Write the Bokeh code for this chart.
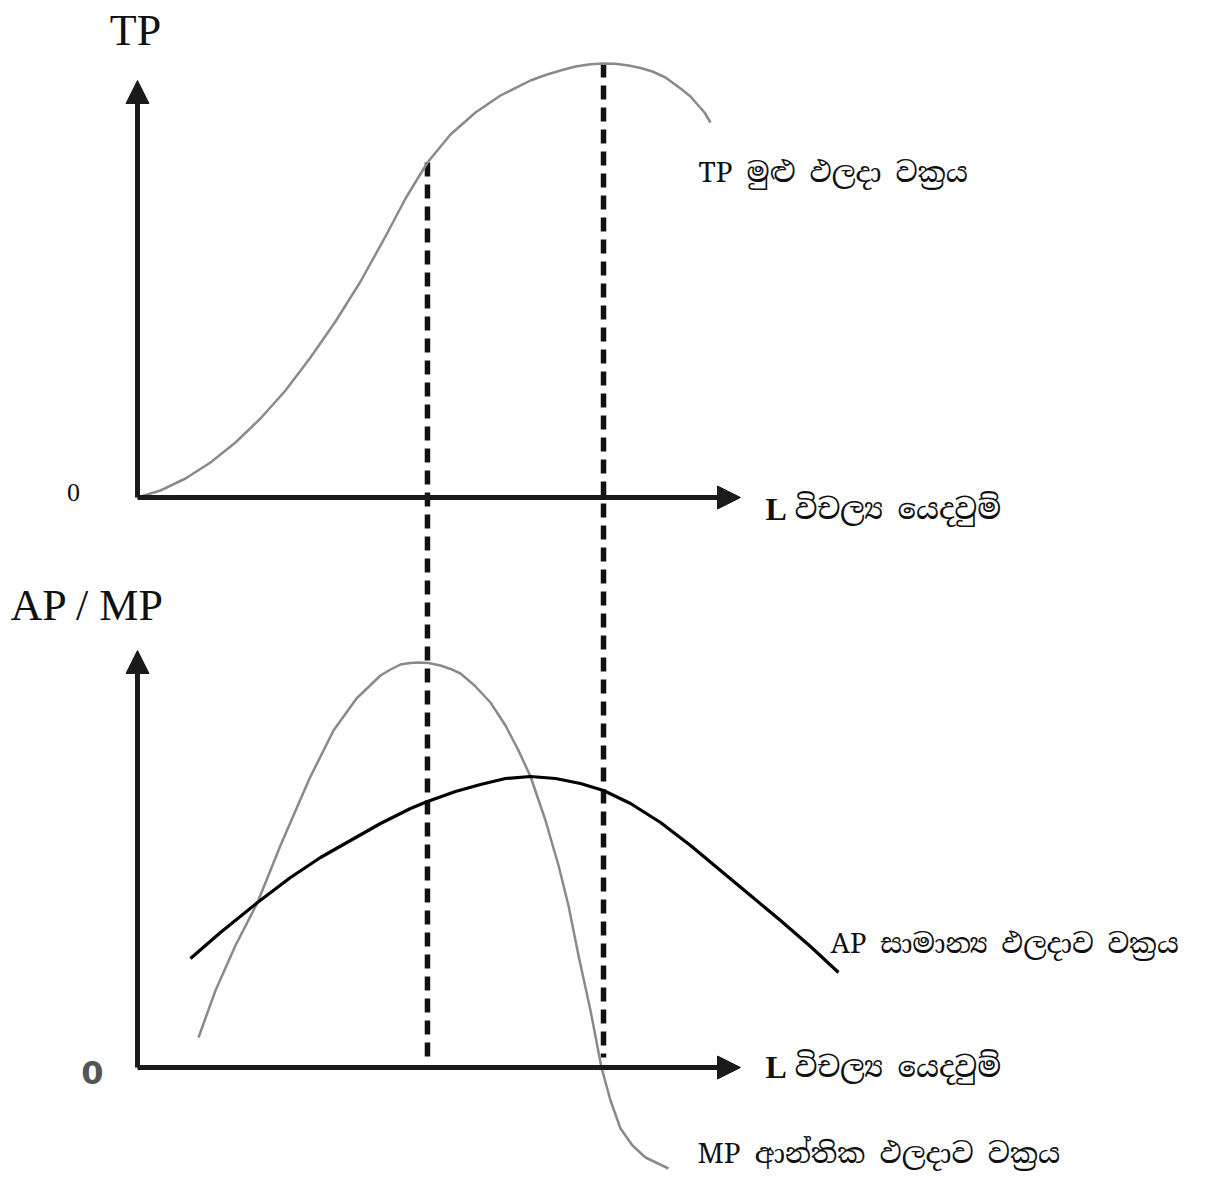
from bokeh.plotting import figure
from bokeh.models import Range1d, Arrow, NormalHead
from bokeh.core.properties import value
from bokeh.embed import file_html
from bokeh.resources import INLINE

# ---------------- data ----------------
# Units: labour L on x (axis arrow tip = 100.5), output on y (axis arrow tip = 104.25)
tp_L = [0, 3.83, 8, 12.17, 16.33, 20.5, 24.67, 28.83, 33, 37.17, 41.33, 44.67, 48.33,
        52.17, 56.33, 60.5, 65.5, 68, 70.5, 73, 75.5, 77.67, 79.67, 81.83, 83.83, 85.83,
        88, 90.5, 92.17, 93.33, 94.5, 95.5]
tp_vals = [0, 1.75, 4.75, 8.75, 13.75, 19.75, 26.75, 35, 44, 54, 65.25, 74.75, 83.75,
           90.75, 96.25, 100.5, 104.25, 105.63, 106.75, 107.75, 108.3, 108.5, 108.43, 108,
           107.38, 106.5, 105, 102.25, 100.25, 98.25, 96.25, 93.75]

mp_L = [10.17, 13, 16.33, 20, 23.83, 28.67, 32.67, 36.5, 40.5, 42.17, 43.83, 45.5, 46.83,
        48.5, 50.5, 52.17, 53.83, 56.17, 58.83, 61.33, 63.5, 65.5, 68, 70.17, 71.83, 73.5,
        75.5, 77.33, 78.83, 80.5, 82.5, 84.67, 88.5]
mp_vals = [7.5, 19.25, 30.5, 41.25, 55.5, 72.25, 84.25, 92.25, 98, 99.5, 100.75, 101.13, 101.25,
           101.13, 100.5, 99.63, 98.5, 95.5, 91.25, 85.5, 79.25, 72.75, 61.75, 50.5, 40.5, 28,
           14.25, 0, -8.25, -15.25, -19.5, -22.5, -25.25]

ap_L = [8.83, 13.83, 20, 25.5, 30.5, 35.5, 40.5, 45.5, 48.33, 53, 57.17, 61.33, 65.5,
        69.67, 73.83, 77.67, 82.17, 87.17, 92.17, 97.17, 102.17, 107.17, 112.17, 116.83]
ap_vals = [27.25, 33.75, 41.25, 47.5, 52.5, 56.75, 61, 64.75, 66.5, 69, 70.75, 72.25, 72.75,
           72.25, 71, 69.25, 66, 61.25, 55.5, 49.25, 43, 36.75, 30.25, 23.75]

# stage boundaries: TP inflection (= MP max) and TP max (= MP zero)
stage_L = [48.33, 77.67]
stage_tp = [83.75, 108.5]
axis_end_L = 100.5
axis_end_Q = 104.25

# labels
tp_axis_title = "TP"
apmp_axis_title = "AP / MP"
origin_label = "0"
l_letter = "L"
l_text = "විචල්‍ය යෙදවුම්"
tp_label = "TP මුළු ඵලදා වක්‍රය"
ap_label = "AP සාමාන්‍ය ඵලදාව වක්‍රය"
mp_label = "MP ආන්තික ඵලදාව වක්‍රය"

# ---------------- layout ----------------
W, H = 1198, 1176
OFF = 142.5          # vertical offset of the TP panel above the AP/MP panel (data units)

p = figure(width=W, height=H, output_backend="svg", toolbar_location=None,
           x_range=Range1d(-22.83, 176.83), y_range=Range1d(-27.25, 266.75),
           x_axis_location=None, y_axis_location=None, min_border=0)
p.grid.visible = False
p.outline_line_color = None
p.background_fill_color = "white"
p.border_fill_color = "white"

serif = value("Liberation Serif")
sinh = value("Noto Serif Sinhala, Noto Sans Sinhala, Iskoola Pota, Liberation Serif")

tp_y = [v + OFF for v in tp_vals]

# dashed guide lines
p.segment(x0=stage_L, y0=[v + OFF for v in stage_tp], x1=stage_L, y1=[2.5, 2.5],
          line_color="#111111", line_width=5.5, line_dash="14 8")

# curves
p.line(tp_L, tp_y, line_color="#8a8a8a", line_width=2.5, line_join="round")
p.line(mp_L, mp_vals, line_color="#8a8a8a", line_width=2.5, line_join="round")
p.line(ap_L, ap_vals, line_color="#000000", line_width=3.2, line_join="round")

# axes with arrow heads
for base in (OFF, 0):
    p.add_layout(Arrow(end=NormalHead(size=23, fill_color="#1a1a1a", line_color="#1a1a1a"),
                       x_start=0, y_start=base, x_end=axis_end_L, y_end=base,
                       line_color="#1a1a1a", line_width=5))
    p.add_layout(Arrow(end=NormalHead(size=23, fill_color="#1a1a1a", line_color="#1a1a1a"),
                       x_start=0, y_start=base, x_end=0, y_end=base + axis_end_Q,
                       line_color="#1a1a1a", line_width=5))

# axis titles
p.text(x=[-0.33], y=[259.25], text=[tp_axis_title], text_font=serif, text_font_size="44px",
       text_align="center", text_baseline="middle", text_color="#111111")
p.text(x=[-21.17], y=[115.5], text=[apmp_axis_title], text_font=serif, text_font_size="44px",
       text_align="left", text_baseline="middle", text_color="#111111")

# origins
p.text(x=[-10.67], y=[143.75], text=[origin_label], text_font=serif, text_font_size="26px",
       text_align="center", text_baseline="middle", text_color="#111111")
p.text(x=[-7.5], y=[-1.25], text=[origin_label], text_font=value("DejaVu Sans"),
       text_font_size="32px", text_font_style="bold",
       text_align="center", text_baseline="middle", text_color="#555555")

# L axis labels
for yv in (139.75, 0.25):
    p.text(x=[104.67], y=[yv], text=[l_letter], text_font=serif, text_font_size="32px",
           text_font_style="bold", text_align="left", text_baseline="middle", text_color="#111111")
    p.text(x=[109.5], y=[yv], text=[l_text], text_font=sinh, text_font_size="29px",
           text_align="left", text_baseline="middle", text_color="#111111")

# curve labels
p.text(x=[93.5], y=[223.75], text=[tp_label], text_font=sinh, text_font_size="28px",
       text_align="left", text_baseline="middle", text_color="#111111")
p.text(x=[115.5], y=[31], text=[ap_label], text_font=sinh, text_font_size="27.5px",
       text_align="left", text_baseline="middle", text_color="#111111")
p.text(x=[93.33], y=[-21.5], text=[mp_label], text_font=sinh, text_font_size="28px",
       text_align="left", text_baseline="middle", text_color="#111111")

open("out.html", "w").write(file_html(p, INLINE))
